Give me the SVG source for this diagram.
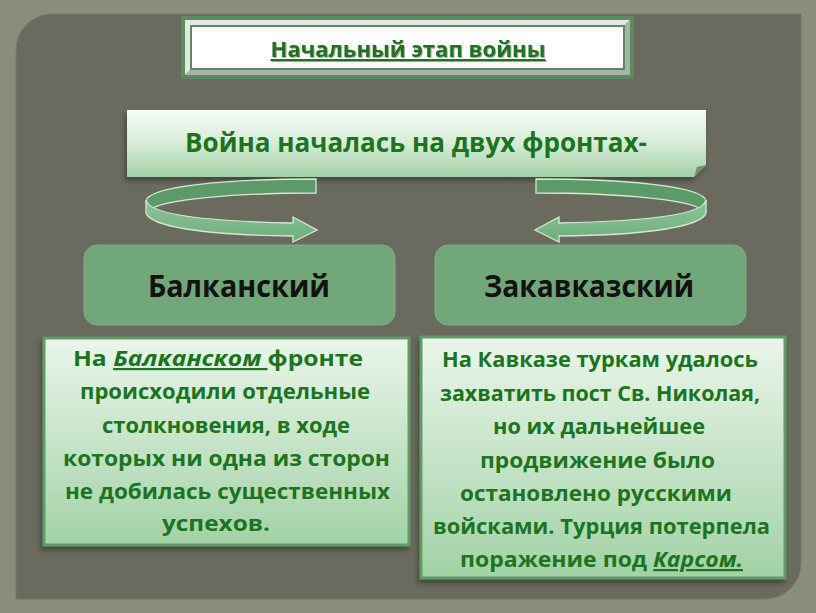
<svg xmlns="http://www.w3.org/2000/svg" width="816" height="613" viewBox="0 0 816 613">
<defs>
<linearGradient id="gBand" x1="0" y1="0" x2="0" y2="1">
<stop offset="0" stop-color="#f6fbf6"/><stop offset="0.5" stop-color="#d6ecd6"/><stop offset="1" stop-color="#a3d0a6"/>
</linearGradient>
<linearGradient id="gBox" x1="0" y1="0" x2="0" y2="1">
<stop offset="0" stop-color="#eaf6ea"/><stop offset="1" stop-color="#a2d2a6"/>
</linearGradient>
<linearGradient id="gArrowFront" x1="0" y1="0" x2="0" y2="1">
<stop offset="0" stop-color="#8cc49a"/><stop offset="1" stop-color="#6fae7c"/>
</linearGradient>
<filter id="sh" x="-10%" y="-10%" width="120%" height="130%">
<feDropShadow dx="-2" dy="4" stdDeviation="2" flood-color="#2a3028" flood-opacity="0.6"/>
</filter>
<filter id="tsh" x="-5%" y="-20%" width="110%" height="150%">
<feDropShadow dx="1" dy="1" stdDeviation="0.6" flood-color="#000" flood-opacity="0.35"/>
</filter>
</defs>
<style>
.body{font-family:"Open Sans","Noto Sans","DejaVu Sans",sans-serif;font-weight:bold;fill:#1c741e}
.node{font-family:"Open Sans","Noto Sans","DejaVu Sans",sans-serif;font-weight:bold;fill:#121212;font-size:30px}
.textbox{fill:url(#gBox);stroke:#5f9c67;stroke-width:3}
.green{fill:#71a779;stroke:#7cb083;stroke-width:1}
.back{fill:#5c9a6a;stroke:#d7e8cf;stroke-width:1.3}
.front{fill:url(#gArrowFront);stroke:#d7e8cf;stroke-width:1.3}
</style>
<rect x="0" y="0" width="816" height="613" fill="#8a8c7c"/>
<path d="M52,14 H801 V563 A36,36 0 0 1 765,599 H16 V50 A36,36 0 0 1 52,14 Z" fill="#6b6a5e" stroke="#77766a" stroke-width="1"/>

<g id="title">
<rect x="181" y="16" width="453" height="63" fill="#5a8c5f"/>
<polygon points="185,20 630,20 624,26 191,26 191,69 185,75" fill="#e4e8e4"/>
<polygon points="630,20 630,75 185,75 191,69 624,69 624,26" fill="#aab3a9"/>
<rect x="190" y="25" width="435" height="45" fill="#5a8c5f"/>
<rect x="192" y="27" width="431" height="41" fill="#ffffff"/>
<text x="408" y="57" text-anchor="middle" class="body" font-size="21" fill="#1a6a1a" text-decoration="underline" filter="url(#tsh)" textLength="275" lengthAdjust="spacingAndGlyphs">Начальный этап войны</text>
</g>

<g id="band">
<path d="M127,110 H706 V165 L694,177 H127 Z" fill="url(#gBand)" filter="url(#sh)"/>
<path d="M706,165 L694,177 L697,167 Z" fill="#6f8f70"/>
<text x="416" y="152" text-anchor="middle" class="body" font-size="26" fill="#17681a" textLength="462" lengthAdjust="spacingAndGlyphs">Война началась на двух фронтах-</text>
</g>

<g id="connectors">
<g id="arrow-left">
<path class="back" d="M316,179 C230,179 148,186 146,201 L150,210 C162,199 240,193 316,193 Z"/>
<path class="front" d="M146,200 C148,212 190,221 293,223 L293,217 L317,230 L293,242 L293,236 C200,235 150,226 146,213 Z"/>
</g>
<g id="arrow-right" transform="translate(852,0) scale(-1,1)">
<path class="back" d="M316,179 C230,179 148,186 146,201 L150,210 C162,199 240,193 316,193 Z"/>
<path class="front" d="M146,200 C148,212 190,221 293,223 L293,217 L317,230 L293,242 L293,236 C200,235 150,226 146,213 Z"/>
</g>
</g>

<g id="balkan">
<rect x="84" y="245" width="311" height="80" rx="13" class="green"/>
<text x="239" y="297" text-anchor="middle" class="node" textLength="182" lengthAdjust="spacingAndGlyphs">Балканский</text>
</g>

<g id="zakavkaz">
<rect x="435" y="245" width="311" height="80" rx="13" class="green"/>
<text x="589" y="297" text-anchor="middle" class="node" textLength="210" lengthAdjust="spacingAndGlyphs">Закавказский</text>
</g>

<g id="balkan-text">
<rect x="44" y="338" width="365" height="207" class="textbox" filter="url(#sh)"/>
<g class="body" font-size="22">
<text x="73" y="366" textLength="290" lengthAdjust="spacingAndGlyphs">На <tspan font-style="italic" text-decoration="underline">Балканском </tspan>фронте</text>
<text x="80" y="399" textLength="290" lengthAdjust="spacingAndGlyphs">происходили отдельные</text>
<text x="102" y="433" textLength="248" lengthAdjust="spacingAndGlyphs">столкновения, в ходе</text>
<text x="63" y="466" textLength="327" lengthAdjust="spacingAndGlyphs">которых ни одна из сторон</text>
<text x="65" y="499" textLength="325" lengthAdjust="spacingAndGlyphs">не добилась существенных</text>
<text x="162" y="531" textLength="108" lengthAdjust="spacingAndGlyphs">успехов.</text>
</g>
</g>

<g id="kavkaz-text">
<rect x="421" y="337" width="364" height="241" class="textbox" filter="url(#sh)"/>
<g class="body" font-size="22">
<text x="442" y="367" textLength="316" lengthAdjust="spacingAndGlyphs">На Кавказе туркам удалось</text>
<text x="440" y="401" textLength="320" lengthAdjust="spacingAndGlyphs">захватить пост Св. Николая,</text>
<text x="493" y="434" textLength="212" lengthAdjust="spacingAndGlyphs">но их дальнейшее</text>
<text x="480" y="468" textLength="235" lengthAdjust="spacingAndGlyphs">продвижение было</text>
<text x="460" y="501" textLength="272" lengthAdjust="spacingAndGlyphs">остановлено русскими</text>
<text x="433" y="534" textLength="337" lengthAdjust="spacingAndGlyphs">войсками. Турция потерпела</text>
<text x="460" y="567" textLength="283" lengthAdjust="spacingAndGlyphs">поражение под <tspan font-style="italic" text-decoration="underline">Карсом.</tspan></text>
</g>
</g>
</svg>
